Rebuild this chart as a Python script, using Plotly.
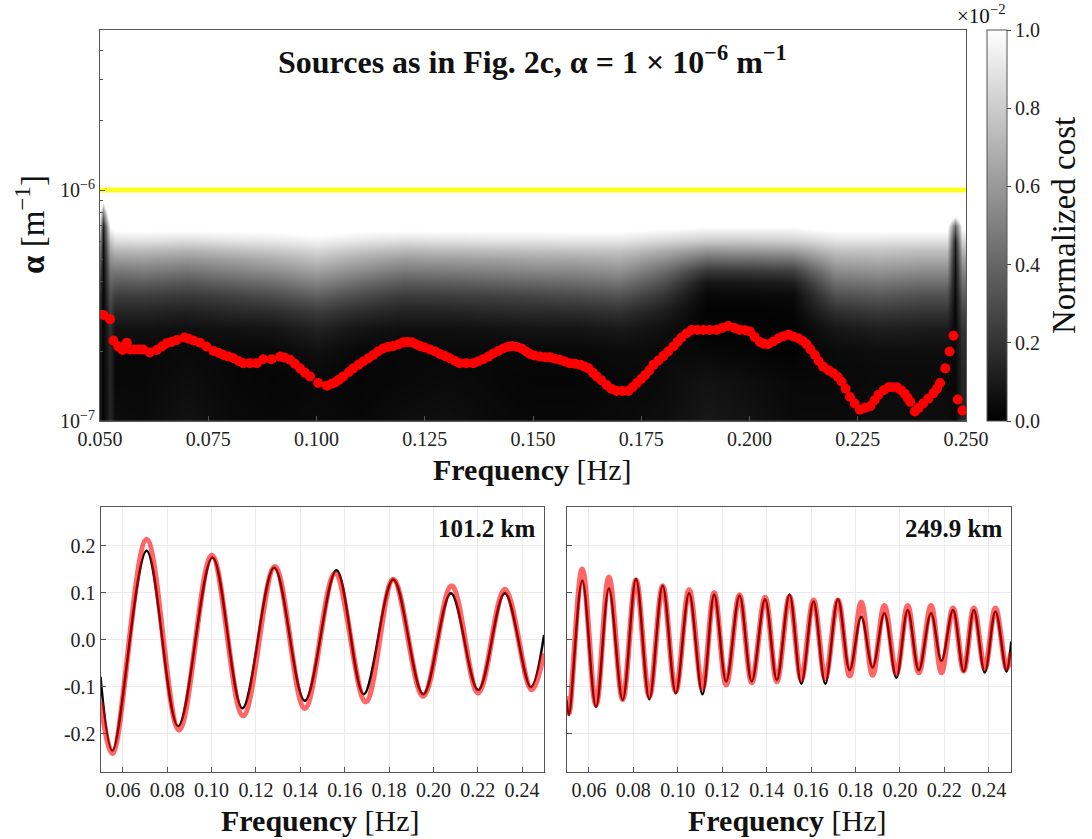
import numpy as np
import plotly.graph_objects as go

W, H = 1092, 839
FONT = "Liberation Serif"

# ---------------- cost map (normalized cost, in units of 1e-2) ----------------
grid_freq = [0.0500, 0.0508, 0.0522, 0.0535, 0.060, 0.070, 0.080, 0.090, 0.100,
             0.110, 0.120, 0.130, 0.140, 0.150, 0.160, 0.170, 0.180, 0.190,
             0.200, 0.210, 0.220, 0.230, 0.240, 0.2455, 0.2475, 0.2490, 0.2500]
grid_alpha_e7 = [0.9, 1.0, 1.5, 2.0, 2.5, 3.0, 3.5, 4.0, 4.5, 5.0, 5.5, 6.0, 7.0, 8.0, 10.0]
# one list per frequency column, ordered along grid_alpha_e7
cost_columns = [
    [0.10, 0.10, 0.10, 0.10, 0.11, 0.14, 0.18, 0.24, 0.31, 0.38, 0.46, 0.56, 0.75, 1.00, 1.5],
    [0.02, 0.02, 0.02, 0.02, 0.02, 0.02, 0.02, 0.03, 0.03, 0.04, 0.05, 0.07, 0.12, 0.50, 1.5],
    [0.15, 0.15, 0.15, 0.16, 0.19, 0.25, 0.32, 0.40, 0.48, 0.56, 0.66, 0.77, 1.00, 1.30, 2.0],
    [0.05, 0.05, 0.03, 0.03, 0.07, 0.15, 0.25, 0.36, 0.48, 0.60, 0.73, 0.87, 1.06, 1.50, 2.0],
    [0.04, 0.04, 0.03, 0.03, 0.07, 0.15, 0.25, 0.37, 0.50, 0.61, 0.74, 0.88, 1.06, 1.50, 2.0],
    [0.07, 0.07, 0.05, 0.04, 0.06, 0.13, 0.23, 0.34, 0.47, 0.58, 0.71, 0.86, 1.06, 1.50, 2.0],
    [0.04, 0.04, 0.03, 0.03, 0.07, 0.16, 0.26, 0.39, 0.52, 0.62, 0.75, 0.89, 1.06, 1.50, 2.0],
    [0.03, 0.03, 0.02, 0.03, 0.08, 0.18, 0.31, 0.44, 0.57, 0.67, 0.79, 0.91, 1.06, 1.50, 2.0],
    [0.04, 0.04, 0.03, 0.06, 0.13, 0.24, 0.38, 0.52, 0.64, 0.74, 0.85, 0.95, 1.08, 1.50, 2.0],
    [0.03, 0.03, 0.02, 0.03, 0.08, 0.18, 0.30, 0.43, 0.56, 0.66, 0.78, 0.90, 1.06, 1.50, 2.0],
    [0.05, 0.05, 0.03, 0.03, 0.06, 0.14, 0.24, 0.36, 0.49, 0.60, 0.73, 0.87, 1.06, 1.50, 2.0],
    [0.06, 0.06, 0.04, 0.03, 0.06, 0.14, 0.25, 0.37, 0.50, 0.61, 0.74, 0.88, 1.06, 1.50, 2.0],
    [0.04, 0.04, 0.03, 0.03, 0.07, 0.16, 0.26, 0.39, 0.52, 0.62, 0.75, 0.89, 1.06, 1.50, 2.0],
    [0.03, 0.03, 0.02, 0.03, 0.08, 0.17, 0.28, 0.41, 0.54, 0.64, 0.76, 0.89, 1.06, 1.50, 2.0],
    [0.03, 0.03, 0.02, 0.03, 0.08, 0.18, 0.30, 0.43, 0.55, 0.65, 0.77, 0.90, 1.06, 1.50, 2.0],
    [0.04, 0.04, 0.03, 0.04, 0.10, 0.20, 0.33, 0.46, 0.58, 0.67, 0.78, 0.90, 1.06, 1.50, 2.0],
    [0.05, 0.05, 0.04, 0.04, 0.06, 0.12, 0.21, 0.32, 0.44, 0.56, 0.69, 0.84, 1.04, 1.40, 2.0],
    [0.09, 0.09, 0.07, 0.03, 0.01, 0.01, 0.03, 0.09, 0.23, 0.41, 0.60, 0.79, 1.01, 1.30, 2.0],
    [0.07, 0.07, 0.05, 0.02, 0.01, 0.01, 0.04, 0.10, 0.24, 0.42, 0.61, 0.79, 1.01, 1.30, 2.0],
    [0.04, 0.04, 0.03, 0.01, 0.01, 0.02, 0.04, 0.12, 0.26, 0.44, 0.63, 0.81, 1.01, 1.40, 2.0],
    [0.04, 0.04, 0.03, 0.04, 0.09, 0.19, 0.32, 0.44, 0.56, 0.66, 0.77, 0.89, 1.06, 1.50, 2.0],
    [0.05, 0.05, 0.04, 0.05, 0.12, 0.23, 0.35, 0.47, 0.59, 0.68, 0.78, 0.89, 1.06, 1.50, 2.0],
    [0.05, 0.05, 0.04, 0.05, 0.11, 0.21, 0.32, 0.44, 0.56, 0.66, 0.76, 0.88, 1.06, 1.50, 2.0],
    [0.05, 0.05, 0.04, 0.05, 0.11, 0.21, 0.32, 0.44, 0.56, 0.66, 0.76, 0.88, 1.06, 1.50, 2.0],
    [0.03, 0.03, 0.03, 0.03, 0.03, 0.03, 0.04, 0.05, 0.06, 0.07, 0.09, 0.13, 0.40, 1.20, 2.0],
    [0.15, 0.15, 0.15, 0.17, 0.21, 0.28, 0.36, 0.45, 0.53, 0.62, 0.72, 0.84, 1.02, 1.40, 2.0],
    [0.15, 0.15, 0.15, 0.17, 0.21, 0.28, 0.36, 0.45, 0.53, 0.62, 0.72, 0.84, 1.02, 1.40, 2.0],
]

# ---------------- best-fitting attenuation per frequency ----------------
best_freq = [
    0.0508, 0.0523, 0.0531, 0.0542, 0.0552, 0.0562, 0.0569, 0.0580, 0.0590, 0.0600,
    0.0615, 0.0631, 0.0643, 0.0654, 0.0665, 0.0677, 0.0695, 0.0705, 0.0716, 0.0731,
    0.0746, 0.0762, 0.0775, 0.0785, 0.0797, 0.0808, 0.0820, 0.0831, 0.0846, 0.0862,
    0.0877, 0.0896, 0.0916, 0.0927, 0.0939, 0.0950, 0.0962, 0.0973, 0.0985, 0.1004,
    0.1024, 0.1035, 0.1043, 0.1052, 0.1062, 0.1075, 0.1085, 0.1097, 0.1108, 0.1120,
    0.1131, 0.1142, 0.1154, 0.1165, 0.1177, 0.1190, 0.1200, 0.1210, 0.1220, 0.1230,
    0.1239, 0.1250, 0.1262, 0.1274, 0.1285, 0.1297, 0.1308, 0.1320, 0.1331, 0.1346,
    0.1362, 0.1373, 0.1385, 0.1397, 0.1408, 0.1420, 0.1431, 0.1441, 0.1451, 0.1463,
    0.1474, 0.1484, 0.1493, 0.1503, 0.1516, 0.1528, 0.1539, 0.1550, 0.1562, 0.1573,
    0.1585, 0.1597, 0.1609, 0.1619, 0.1628, 0.1638, 0.1647, 0.1658, 0.1670, 0.1681,
    0.1693, 0.1706, 0.1720, 0.1730, 0.1740, 0.1750, 0.1759, 0.1769, 0.1778, 0.1790,
    0.1801, 0.1812, 0.1824, 0.1834, 0.1843, 0.1855, 0.1867, 0.1880, 0.1893, 0.1908,
    0.1924, 0.1937, 0.1951, 0.1965, 0.1978, 0.1990, 0.2001, 0.2012, 0.2024, 0.2033,
    0.2043, 0.2055, 0.2067, 0.2078, 0.2090, 0.2101, 0.2113, 0.2123, 0.2132, 0.2141,
    0.2151, 0.2160, 0.2170, 0.2182, 0.2194, 0.2204, 0.2213, 0.2222, 0.2232, 0.2243,
    0.2255, 0.2267, 0.2279, 0.2289, 0.2298, 0.2310, 0.2321, 0.2330, 0.2340, 0.2350,
    0.2359, 0.2365, 0.2371, 0.2382, 0.2391, 0.2401, 0.2413, 0.2425, 0.2433, 0.2440,
    0.2452, 0.2462, 0.2471, 0.2481, 0.2492,
]
best_alpha_e7 = [
    2.88, 2.76, 2.23, 2.10, 2.03, 2.18, 2.04, 2.04, 2.04, 2.04,
    1.98, 2.03, 2.10, 2.17, 2.20, 2.24, 2.30, 2.27, 2.23, 2.18,
    2.10, 2.01, 1.97, 1.93, 1.90, 1.87, 1.82, 1.78, 1.78, 1.78,
    1.85, 1.85, 1.90, 1.88, 1.84, 1.77, 1.69, 1.62, 1.56, 1.46,
    1.42, 1.45, 1.47, 1.51, 1.56, 1.63, 1.69, 1.75, 1.81, 1.87,
    1.93, 2.00, 2.06, 2.09, 2.11, 2.15, 2.19, 2.20, 2.19, 2.15,
    2.11, 2.08, 2.04, 2.00, 1.95, 1.91, 1.87, 1.82, 1.78, 1.78,
    1.78, 1.81, 1.85, 1.90, 1.96, 2.01, 2.06, 2.09, 2.11, 2.09,
    2.06, 2.00, 1.95, 1.92, 1.90, 1.89, 1.89, 1.86, 1.84, 1.81,
    1.78, 1.77, 1.75, 1.72, 1.69, 1.62, 1.56, 1.50, 1.43, 1.38,
    1.35, 1.35, 1.35, 1.40, 1.46, 1.52, 1.58, 1.66, 1.75, 1.83,
    1.91, 2.00, 2.10, 2.20, 2.30, 2.40, 2.48, 2.48, 2.48, 2.48,
    2.48, 2.53, 2.58, 2.53, 2.48, 2.47, 2.44, 2.31, 2.20, 2.16,
    2.15, 2.21, 2.28, 2.33, 2.36, 2.32, 2.28, 2.22, 2.15, 2.04,
    1.93, 1.82, 1.72, 1.66, 1.61, 1.55, 1.48, 1.38, 1.27, 1.19,
    1.12, 1.14, 1.16, 1.23, 1.30, 1.36, 1.40, 1.40, 1.40, 1.36,
    1.31, 1.26, 1.21, 1.10, 1.14, 1.19, 1.25, 1.32, 1.38, 1.46,
    1.69, 2.00, 2.34, 1.24, 1.11,
]
true_alpha = 1e-6

# ---------------- waveforms at two distances (extrema read along frequency) ----------------
w1_freq_obs = [0.0499, 0.0553, 0.0707, 0.0849, 0.1004, 0.1139, 0.1282, 0.1420, 0.1563,
               0.1686, 0.1819, 0.1954, 0.2079, 0.2202, 0.2322, 0.2439, 0.2499]
w1_obs = [-0.079, -0.236, 0.189, -0.184, 0.175, -0.146, 0.153, -0.130, 0.148,
          -0.116, 0.128, -0.116, 0.099, -0.107, 0.099, -0.101, 0.010]
w1_freq_mod = [0.0500, 0.0553, 0.0707, 0.0853, 0.1001, 0.1142, 0.1285, 0.1420, 0.1557,
               0.1695, 0.1819, 0.1954, 0.2082, 0.2202, 0.2322, 0.2442, 0.2498]
w1_mod = [-0.132, -0.242, 0.213, -0.192, 0.179, -0.162, 0.155, -0.146, 0.141,
          -0.132, 0.128, -0.120, 0.114, -0.113, 0.107, -0.106, -0.029]

w2_freq = [0.0499, 0.0510, 0.0570, 0.0632, 0.0690, 0.0752, 0.0812, 0.0872, 0.0932, 0.0991,
           0.1051, 0.1111, 0.1164, 0.1218, 0.1278, 0.1333, 0.1393, 0.1446, 0.1503, 0.1556,
           0.1611, 0.1664, 0.1721, 0.1774, 0.1826, 0.1877, 0.1930, 0.1984, 0.2035, 0.2085,
           0.2140, 0.2187, 0.2239, 0.2287, 0.2333, 0.2382, 0.2430, 0.2480, 0.2501]
w2_obs = [-0.128, -0.160, 0.126, -0.143, 0.109, -0.128, 0.129, -0.127, 0.115, -0.114,
          0.099, -0.116, 0.096, -0.089, 0.094, -0.089, 0.086, -0.086, 0.096, -0.094,
          0.081, -0.094, 0.086, -0.065, 0.049, -0.059, 0.056, -0.081, 0.063, -0.065,
          0.056, -0.045, 0.063, -0.068, 0.063, -0.070, 0.060, -0.068, -0.004]
w2_mod = [-0.120, -0.157, 0.150, -0.139, 0.133, -0.127, 0.127, -0.121, 0.114, -0.110,
          0.106, -0.104, 0.100, -0.096, 0.095, -0.091, 0.090, -0.089, 0.092, -0.085,
          0.084, -0.082, 0.084, -0.077, 0.079, -0.075, 0.072, -0.072, 0.072, -0.070,
          0.072, -0.070, 0.067, -0.066, 0.067, -0.061, 0.067, -0.061, -0.026]

x_ticks_top = [0.050, 0.075, 0.100, 0.125, 0.150, 0.175, 0.200, 0.225, 0.250]
x_ticks_bottom = [0.06, 0.08, 0.10, 0.12, 0.14, 0.16, 0.18, 0.20, 0.22, 0.24]
y_ticks_bottom = [-0.2, -0.1, 0.0, 0.1, 0.2]
cbar_ticks = [0.0, 0.2, 0.4, 0.6, 0.8, 1.0]

alpha_top = 4.93e-6
log_range = [-7.0, float(np.log10(alpha_top))]


def px(x):
    return x / W


def py(y):
    return 1 - y / H


fig = go.Figure()

# The cost map sits on a linear axis in decades so that smoothing is even per decade;
# the markers and the reference line use a log axis laid over it with the same range.
z = np.array(cost_columns).T
fig.add_trace(go.Heatmap(
    x=grid_freq, y=np.log10(np.array(grid_alpha_e7) * 1e-7), z=z,
    zmin=0, zmax=1.0, zsmooth="best",
    colorscale=[[0, "black"], [1, "white"]],
    xaxis="x", yaxis="y",
    colorbar=dict(
        x=px(987), xanchor="left", y=py(225.5), yanchor="middle",
        xpad=0, ypad=0,
        len=391 / H, lenmode="fraction", thickness=20, thicknessmode="pixels",
        outlinecolor="#555", outlinewidth=1,
        tickvals=cbar_ticks, ticktext=[f"{v:.1f}" for v in cbar_ticks],
        ticks="outside", ticklen=4, tickcolor="#444",
        tickfont=dict(family=FONT, size=20, color="#222"),
    ),
))

fig.add_trace(go.Scatter(
    x=[0.05, 0.25], y=[true_alpha, true_alpha], mode="lines",
    line=dict(color="#ffff22", width=5), xaxis="x", yaxis="y4", showlegend=False,
))
fig.add_trace(go.Scatter(
    x=best_freq, y=[a * 1e-7 for a in best_alpha_e7], mode="markers",
    marker=dict(color="#ff0000", size=10, line=dict(width=0)),
    xaxis="x", yaxis="y4", showlegend=False,
))

obs_line = dict(color="black", width=2.5, shape="spline", smoothing=1.0)
mod_line = dict(color="rgba(255,0,0,0.6)", width=5.5, shape="spline", smoothing=1.0)
fig.add_trace(go.Scatter(x=w1_freq_obs, y=w1_obs, mode="lines", line=obs_line,
                         xaxis="x2", yaxis="y2", showlegend=False))
fig.add_trace(go.Scatter(x=w1_freq_mod, y=w1_mod, mode="lines", line=mod_line,
                         xaxis="x2", yaxis="y2", showlegend=False))
fig.add_trace(go.Scatter(x=w2_freq, y=w2_obs, mode="lines", line=obs_line,
                         xaxis="x3", yaxis="y3", showlegend=False))
fig.add_trace(go.Scatter(x=w2_freq, y=w2_mod, mode="lines", line=mod_line,
                         xaxis="x3", yaxis="y3", showlegend=False))

tickfont = dict(family=FONT, size=20, color="#222")
frame = dict(showline=True, linecolor="#555", linewidth=1.2, mirror=True,
             zeroline=False, ticks="inside", tickcolor="#555", ticklen=5,
             automargin=False)

minor_decades = [float(np.log10(k * 1e-7)) for k in range(2, 10)] + \
                [float(np.log10(k * 1e-6)) for k in range(2, 5)]

fig.update_layout(
    width=W, height=H, margin=dict(l=0, r=0, t=0, b=0, autoexpand=False),
    paper_bgcolor="white", plot_bgcolor="white", showlegend=False,
    font=dict(family=FONT, color="#111"),
    xaxis=dict(domain=[px(100), px(966)], range=[0.05, 0.25], anchor="y",
               tickvals=x_ticks_top, ticktext=[f"{v:.3f}" for v in x_ticks_top],
               tickfont=tickfont, showgrid=False, **frame),
    yaxis=dict(domain=[py(421), py(30)], range=log_range,
               anchor="x", tickvals=[-7, -6],
               ticktext=["10<sup>−7</sup>", "10<sup>−6</sup>"],
               tickfont=tickfont, showgrid=False,
               minor=dict(tickmode="array", tickvals=minor_decades, ticks="inside",
                          ticklen=3, tickcolor="#555"),
               **frame),
    yaxis4=dict(type="log", range=log_range, overlaying="y", anchor="x",
                visible=False, showgrid=False, zeroline=False),
    xaxis2=dict(domain=[px(100.7), px(544.3)], range=[0.05, 0.25], anchor="y2",
                tickvals=x_ticks_bottom, ticktext=[f"{v:.2f}" for v in x_ticks_bottom],
                tickfont=tickfont, showgrid=True, gridcolor="#ebebeb", **frame),
    yaxis2=dict(domain=[py(771.7), py(506.7)], range=[-0.281, 0.283], anchor="x2",
                tickvals=y_ticks_bottom, ticktext=[f"{v:.1f}" for v in y_ticks_bottom],
                tickfont=tickfont, showgrid=True, gridcolor="#ebebeb", **frame),
    xaxis3=dict(domain=[px(566.7), px(1011)], range=[0.05, 0.25], anchor="y3",
                tickvals=x_ticks_bottom, ticktext=[f"{v:.2f}" for v in x_ticks_bottom],
                tickfont=tickfont, showgrid=True, gridcolor="#ebebeb", **frame),
    yaxis3=dict(domain=[py(771.7), py(506.7)], range=[-0.281, 0.283], anchor="x3",
                tickvals=y_ticks_bottom, showticklabels=False,
                showgrid=True, gridcolor="#ebebeb", **frame),
)

ann = []


def label(text, x, y, size, angle=0, xanchor="center", yanchor="middle"):
    ann.append(dict(text=text, x=px(x), y=py(y), xref="paper", yref="paper",
                    showarrow=False, textangle=angle, xanchor=xanchor, yanchor=yanchor,
                    font=dict(family=FONT, size=size, color="#111")))


label("<b>Sources as in Fig. 2c, α = 1 × 10<sup>−6</sup> m<sup>−1</sup></b>", 532, 60, 32)
label("<b>α</b> [m<sup>−1</sup>]", 30, 225, 33, angle=-90)
label("<b>Frequency</b> [Hz]", 532, 469, 30)
label("<b>Frequency</b> [Hz]", 320, 820, 30)
label("<b>Frequency</b> [Hz]", 787, 820, 30)
label("Normalized cost", 1064, 226, 33, angle=-90)
label("×10<sup>−2</sup>", 1007, 15, 21, xanchor="right")
label("<b>101.2 km</b>", 537, 528, 25, xanchor="right")
label("<b>249.9 km</b>", 1004, 528, 25, xanchor="right")
fig.update_layout(annotations=ann)

fig.write_html("out.html")
